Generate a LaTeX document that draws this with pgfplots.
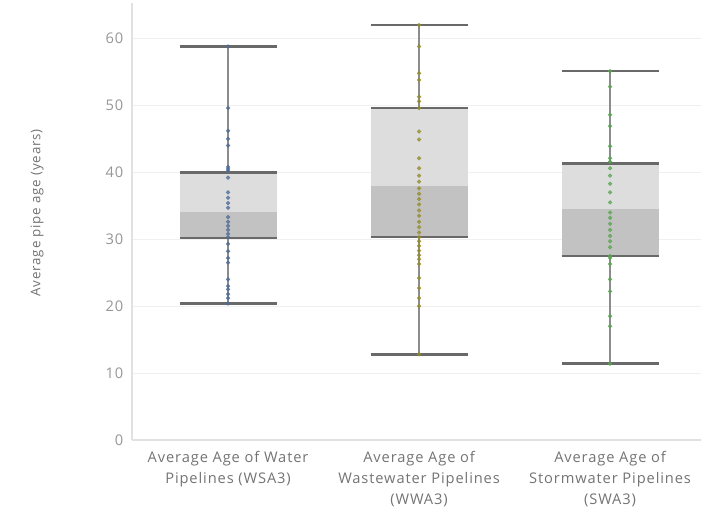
\documentclass[border=0pt]{standalone}
\usepackage{fontspec}
\setmainfont{Open Sans}[LetterSpace=6]
\usepackage{pgfplots}
\usepackage{pgfplotstable}
\pgfplotsset{compat=1.18}

\definecolor{boxlight}{RGB}{221,221,221}
\definecolor{boxdark}{RGB}{194,194,194}
\definecolor{edgegray}{RGB}{105,105,105}
\definecolor{whiskgray}{RGB}{140,140,140}
\definecolor{gridgray}{RGB}{240,240,240}
\definecolor{axisgray}{RGB}{225,225,225}
\definecolor{ticktext}{RGB}{150,150,150}
\definecolor{labeltext}{RGB}{115,115,115}
\definecolor{waterblue}{RGB}{78,108,150}
\definecolor{wasteolive}{RGB}{150,140,40}
\definecolor{stormgreen}{RGB}{90,165,80}

% dots: one value per row
\pgfplotstableread{
y
58.8
49.6
46.2
45.0
44.0
40.8
40.5
40.2
39.2
37.0
36.2
35.4
34.7
33.3
32.6
32.0
31.4
30.8
30.3
29.3
28.2
27.2
26.5
24.0
23.0
22.5
21.8
21.2
20.4
}\waterpts

\pgfplotstableread{
y
62.0
58.8
54.8
53.8
51.3
50.6
49.6
46.1
44.9
42.1
40.6
39.5
38.6
37.6
36.8
36.0
35.2
34.3
33.5
32.6
31.8
31.0
30.3
29.7
29.0
28.3
27.6
27.0
26.3
24.2
22.7
21.2
20.0
12.8
}\wastepts

\pgfplotstableread{
y
55.1
52.8
48.6
46.9
43.9
42.1
41.6
40.6
39.5
38.3
37.0
35.5
34.0
33.2
32.3
31.4
30.5
29.7
28.8
27.5
27.2
26.3
24.0
22.2
18.5
17.0
11.4
}\stormpts

\begin{document}
\begin{tikzpicture}
\begin{axis}[
  scale only axis,
  width=426.75pt, height=327.75pt,
  xmin=-0.503, xmax=2.476,
  ymin=0, ymax=65.3,
  axis x line*=bottom, axis y line*=left,
  axis line style={draw=axisgray, line width=0.8pt},
  major tick length=0pt,
  ymajorgrids, grid style={draw=gridgray, line width=0.8pt},
  ytick={0,10,...,60},
  xtick={0,1,2},
  xticklabels={{Average Age of Water\\Pipelines (WSA3)},
               {Average Age of\\Wastewater Pipelines\\(WWA3)},
               {Average Age of\\Stormwater Pipelines\\(SWA3)}},
  xticklabel style={align=center, font=\fontsize{11}{15.75}\selectfont,
    text=labeltext, yshift=-5pt},
  yticklabel style={font=\fontsize{11}{13}\selectfont, text=ticktext, xshift=-3pt},
  /pgf/number format/assume math mode=true,
  ylabel={Average pipe age (years)},
  ylabel style={at={(axis description cs:-0.1667,0.52)}, anchor=center,
    font=\fontsize{10}{13}\selectfont, text=labeltext},
  clip=false,
  unbounded coords=jump,
]
% box halves: median..q3 (light), q1..median (dark); half width 0.254
\addplot [fill=boxlight, draw=none] coordinates {(-0.254,34.0) (0.254,34.0) (0.254,40.0) (-0.254,40.0)} -- cycle;
\addplot [fill=boxdark, draw=none] coordinates {(-0.254,30.2) (0.254,30.2) (0.254,34.0) (-0.254,34.0)} -- cycle;
\addplot [fill=boxlight, draw=none] coordinates {(0.746,37.9) (1.254,37.9) (1.254,49.6) (0.746,49.6)} -- cycle;
\addplot [fill=boxdark, draw=none] coordinates {(0.746,30.3) (1.254,30.3) (1.254,37.9) (0.746,37.9)} -- cycle;
\addplot [fill=boxlight, draw=none] coordinates {(1.746,34.5) (2.254,34.5) (2.254,41.3) (1.746,41.3)} -- cycle;
\addplot [fill=boxdark, draw=none] coordinates {(1.746,27.5) (2.254,27.5) (2.254,34.5) (1.746,34.5)} -- cycle;

% whiskers
\addplot [whiskgray, line width=0.9pt] coordinates {
  (0,20.4) (0,30.2) (0,nan) (0,40.0) (0,58.8) (0,nan)
  (1,12.8) (1,30.3) (1,nan) (1,49.6) (1,62.0) (1,nan)
  (2,11.4) (2,27.5) (2,nan) (2,41.3) (2,55.1)};

% caps and box edges
\addplot [edgegray, line width=1.8pt] coordinates {
  (-0.254,20.4) (0.254,20.4) (0,nan) (-0.254,30.2) (0.254,30.2) (0,nan)
  (-0.254,40.0) (0.254,40.0) (0,nan) (-0.254,58.8) (0.254,58.8) (0,nan)
  (0.746,12.8) (1.254,12.8) (1,nan) (0.746,30.3) (1.254,30.3) (1,nan)
  (0.746,49.6) (1.254,49.6) (1,nan) (0.746,62.0) (1.254,62.0) (1,nan)
  (1.746,11.4) (2.254,11.4) (2,nan) (1.746,27.5) (2.254,27.5) (2,nan)
  (1.746,41.3) (2.254,41.3) (2,nan) (1.746,55.1) (2.254,55.1)};

% data points
\addplot [only marks, mark=*, mark size=1.4pt, waterblue, opacity=0.75]
  table [x expr=0, y=y] {\waterpts};
\addplot [only marks, mark=*, mark size=1.4pt, wasteolive, opacity=0.75]
  table [x expr=1, y=y] {\wastepts};
\addplot [only marks, mark=*, mark size=1.4pt, stormgreen, opacity=0.75]
  table [x expr=2, y=y] {\stormpts};
\end{axis}
\pgfresetboundingbox
\path (current axis.south west) ++(-99pt,-51pt) coordinate (bbl);
\path (current axis.north east) ++(0pt,2.25pt) coordinate (btr);
\path (bbl) rectangle (btr);
\end{tikzpicture}
\end{document}
